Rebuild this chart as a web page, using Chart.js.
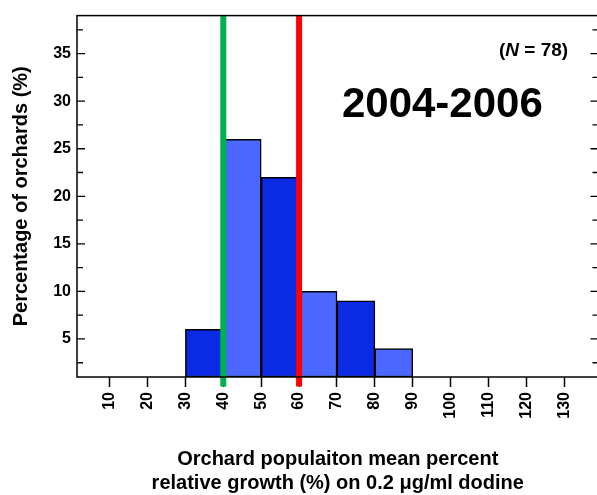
<!DOCTYPE html>
<html>
<head>
<meta charset="utf-8">
<script src="https://cdn.jsdelivr.net/npm/chart.js@4.4.1/dist/chart.umd.min.js"></script>
<style>
  html, body { margin: 0; padding: 0; background: #fff; overflow: hidden; }
  #wrap { width: 597px; height: 495px; overflow: hidden; }
</style>
</head>
<body>
<div id="wrap"><canvas id="grafico" width="600" height="495"></canvas></div>
<script>
// histogram bins and % of orchards in each
const binStart = [30, 40, 50, 60, 70, 80];
const binEnd = [40, 50, 60, 70, 80, 90];
const percentOrchards = [6, 26, 22, 10, 9, 4];
const barColors = ["#0a2be3", "#4a68ff", "#0a2be3", "#4a68ff", "#0a2be3", "#4a68ff"];

// axes
const xTicks = [10, 20, 30, 40, 50, 60, 70, 80, 90, 100, 110, 120, 130];
const yTicks = [5, 10, 15, 20, 25, 30, 35];
const yMinorTicks = [2.5, 7.5, 12.5, 17.5, 22.5, 27.5, 32.5, 37.5];
const xMin = 1.4, xMax = 139;
const yMin = 1, yMax = 39;

// reference lines
const greenLineAt = 40;
const redLineAt = 60;

const fonte = "'Liberation Sans', Arial, sans-serif";
Chart.defaults.color = "#000";
Chart.defaults.font.family = fonte;

// frame, inward y ticks and the two text notes
const molduraPlugin = {
    id: "moldura",
    afterDraw(chart) {
        const ctx = chart.ctx;
        const area = chart.chartArea;
        const xs = chart.scales.x;
        const ys = chart.scales.y;
        ctx.save();
        ctx.strokeStyle = "#000";
        ctx.lineWidth = 1.5;
        ctx.strokeRect(area.left, area.top, area.right - area.left, area.bottom - area.top);

        ctx.lineWidth = 1.3;
        ctx.beginPath();
        yTicks.forEach(v => {
            let py = ys.getPixelForValue(v);
            ctx.moveTo(area.left, py); ctx.lineTo(area.left + 8, py);
            ctx.moveTo(area.right, py); ctx.lineTo(area.right - 8, py);
        });
        yMinorTicks.forEach(v => {
            let py = ys.getPixelForValue(v);
            ctx.moveTo(area.left, py); ctx.lineTo(area.left + 6, py);
            ctx.moveTo(area.right, py); ctx.lineTo(area.right - 6, py);
        });
        ctx.stroke();

        // (N = 78)
        ctx.fillStyle = "#000";
        ctx.textBaseline = "middle";
        ctx.textAlign = "left";
        let px = xs.getPixelForValue(131);
        let py = ys.getPixelForValue(35.35);
        const normal = "bold 19px " + fonte;
        const italico = "italic bold 19px " + fonte;
        ctx.font = normal;
        let w1 = ctx.measureText("(").width;
        let w3 = ctx.measureText(" = 78)").width;
        ctx.font = italico;
        let w2 = ctx.measureText("N").width;
        let x0 = px - (w1 + w2 + w3);
        ctx.font = normal;
        ctx.fillText("(", x0, py);
        ctx.font = italico;
        ctx.fillText("N", x0 + w1, py);
        ctx.font = normal;
        ctx.fillText(" = 78)", x0 + w1 + w2, py);

        // period
        ctx.font = "bold 42px " + fonte;
        ctx.textAlign = "center";
        ctx.fillText("2004-2006", xs.getPixelForValue(97.8), ys.getPixelForValue(29.6));
        ctx.restore();
    }
};

const ctx = document.getElementById("grafico").getContext("2d");
const grafico = new Chart(ctx, {
    type: "bar",
    data: {
        datasets: [
            {
                type: "line",
                data: [{ x: greenLineAt, y: yMax }, { x: greenLineAt, y: 0 }],
                borderColor: "#00b04f",
                borderWidth: 6,
                pointRadius: 0,
                clip: false,
                order: 0
            },
            {
                type: "line",
                data: [{ x: redLineAt, y: yMax }, { x: redLineAt, y: 0 }],
                borderColor: "#ff0000",
                borderWidth: 6,
                pointRadius: 0,
                clip: false,
                order: 0
            },
            {
                type: "bar",
                data: percentOrchards.map((v, i) => ({ x: (binStart[i] + binEnd[i]) / 2, y: v })),
                backgroundColor: barColors,
                borderColor: "#000",
                borderWidth: 1.5,
                borderSkipped: false,
                base: yMin,
                barPercentage: 1,
                categoryPercentage: 1,
                order: 1
            }
        ]
    },
    options: {
        responsive: false,
        animation: false,
        layout: { padding: { top: 12, right: 1.5, left: 0, bottom: 0 } },
        plugins: { legend: { display: false }, tooltip: { enabled: false } },
        scales: {
            x: {
                type: "linear",
                min: xMin,
                max: xMax,
                offset: false,
                afterBuildTicks: s => { s.ticks = xTicks.map(v => ({ value: v })); },
                afterFit: s => { s.height = 118; },
                grid: { offset: false, drawOnChartArea: false, drawTicks: true, tickLength: 10, tickWidth: 1.5, tickColor: "#000" },
                border: { display: false },
                ticks: {
                    autoSkip: false,
                    minRotation: 90,
                    maxRotation: 90,
                    padding: 5,
                    font: { size: 16, weight: "bold" }
                },
                title: {
                    display: true,
                    text: ["Orchard populaiton mean percent", "relative growth (%) on 0.2 \u03bcg/ml dodine"],
                    font: { size: 20, weight: "bold", lineHeight: 1.2 },
                    padding: { top: 0, bottom: 0 }
                }
            },
            y: {
                min: yMin,
                max: yMax,
                beginAtZero: false,
                afterBuildTicks: s => { s.ticks = yTicks.map(v => ({ value: v })); },
                afterFit: s => { s.width = 77; },
                grid: { display: false, drawTicks: false },
                border: { display: false },
                ticks: { padding: 6, font: { size: 16, weight: "bold" } },
                title: {
                    display: true,
                    text: "Percentage of orchards (%)",
                    font: { size: 20, weight: "bold" },
                    padding: { top: 9, bottom: 0 }
                }
            }
        }
    },
    plugins: [molduraPlugin]
});
</script>
</body>
</html>
